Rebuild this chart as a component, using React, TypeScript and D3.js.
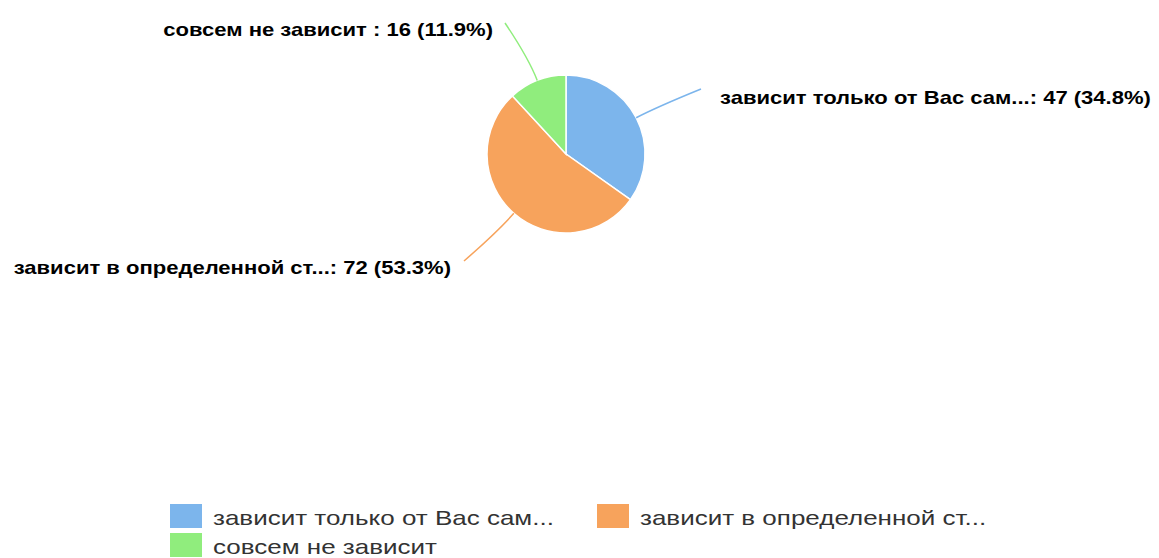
import React from "react";
import * as d3 from "d3";

// Answer categories (full names are truncated for display)
const categories = [
  "зависит только от Вас сам...",
  "зависит в определенной ст...",
  "совсем не зависит",
];
const counts = [47, 72, 16];
const colors = ["#7cb5ec", "#f7a35c", "#90ed7d"];

const W = 1159;
const H = 558;
const CX = 566;
const CY = 154;
const R = 79;

// Text is drawn slightly widened horizontally
const LABEL_SX = 1.16;
const LEGEND_SX = 1.3;

// Connector end points and label anchors (layout), one per slice
const labelLayout = [
  { end: [701, 89], tx: 720, ty: 104, anchor: "start" },
  { end: [464, 261], tx: 451, ty: 274, anchor: "end" },
  { end: [505, 23], tx: 493, ty: 36, anchor: "end" },
];

const legendLayout = [
  { x: 170, y: 504 },
  { x: 597, y: 504 },
  { x: 170, y: 533 },
];

export default function App() {
  const total = d3.sum(counts);
  const pie = d3
    .pie<number>()
    .sort(null)
    .value((d) => d);
  const arcs = pie(counts);
  const arcGen = d3.arc<d3.PieArcDatum<number>>().innerRadius(0).outerRadius(R);

  return (
    <svg
      width={W}
      height={H}
      style={{ position: "absolute", left: 0, top: 0, background: "#fff" }}
      fontFamily="'Liberation Sans', Arial, sans-serif"
    >
      <g transform={`translate(${CX},${CY})`}>
        {arcs.map((a, i) => (
          <path key={i} d={arcGen(a) || ""} fill={colors[i]} stroke="#fff" strokeWidth={1.5} />
        ))}
      </g>
      {arcs.map((a, i) => {
        const mid = (a.startAngle + a.endAngle) / 2;
        const sx = CX + R * Math.sin(mid);
        const sy = CY - R * Math.cos(mid);
        const ox = CX + (R + 24) * Math.sin(mid);
        const oy = CY - (R + 24) * Math.cos(mid);
        const [ex, ey] = labelLayout[i].end;
        const path = d3.path();
        path.moveTo(sx, sy);
        path.quadraticCurveTo(ox, oy, ex, ey);
        return (
          <path key={i} d={path.toString()} fill="none" stroke={colors[i]} strokeWidth={1.5} />
        );
      })}
      {arcs.map((a, i) => {
        const L = labelLayout[i];
        const pct = ((counts[i] / total) * 100).toFixed(1);
        const sep = categories[i].endsWith("...") ? ": " : " : ";
        return (
          <text
            key={i}
            transform={`translate(${L.tx},${L.ty}) scale(${LABEL_SX},1)`}
            textAnchor={L.anchor}
            fontSize={19}
            fontWeight="bold"
            fill="#000"
          >
            {`${categories[i]}${sep}${counts[i]} (${pct}%)`}
          </text>
        );
      })}
      {categories.map((c, i) => (
        <g key={i}>
          <rect
            x={legendLayout[i].x}
            y={legendLayout[i].y}
            width={32}
            height={24}
            fill={colors[i]}
          />
          <text
            transform={`translate(${legendLayout[i].x + 43},${legendLayout[i].y + 21}) scale(${LEGEND_SX},1)`}
            fontSize={20}
            fill="#333"
          >
            {c}
          </text>
        </g>
      ))}
    </svg>
  );
}
